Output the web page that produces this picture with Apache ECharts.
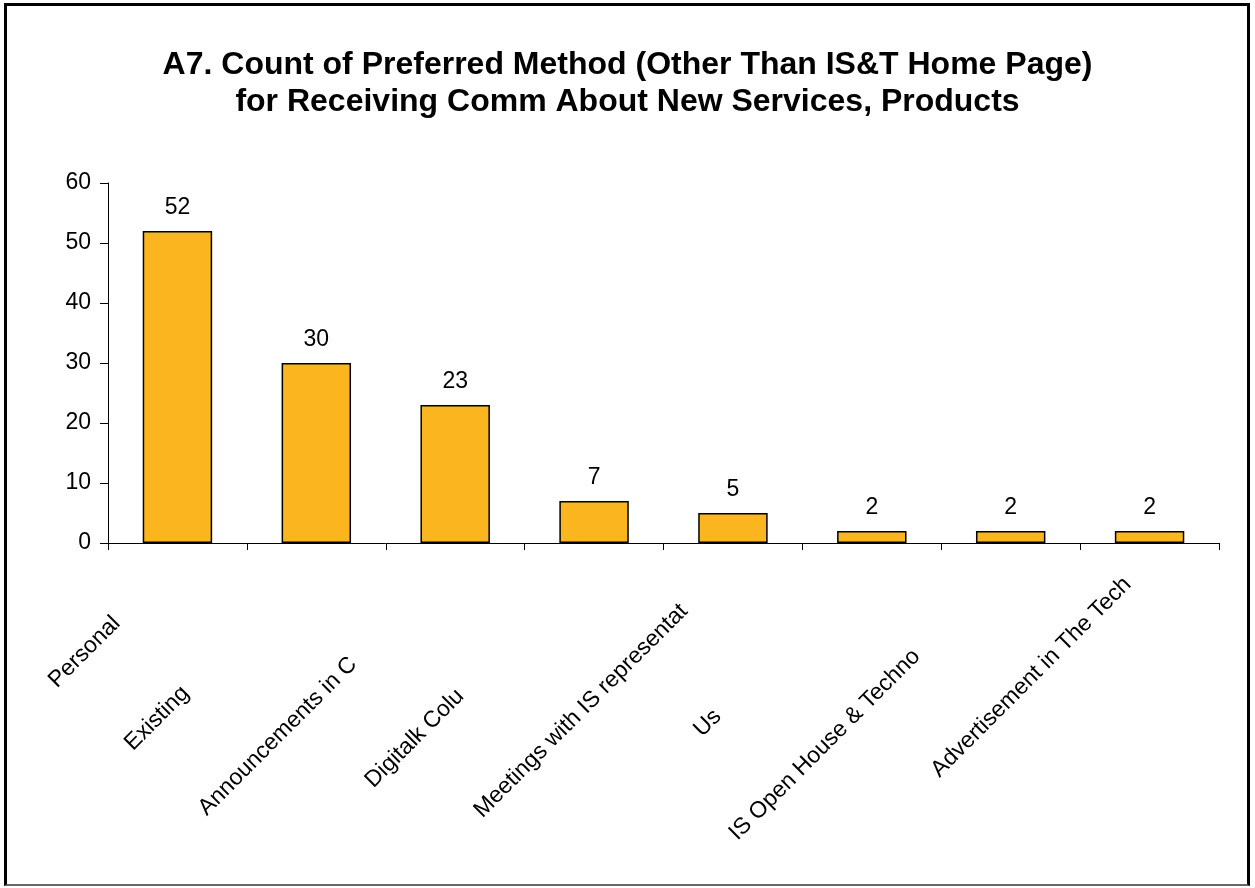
<!DOCTYPE html>
<html>
<head>
<meta charset="utf-8">
<script src="https://cdn.jsdelivr.net/npm/echarts@6/dist/echarts.min.js"></script>
<style>
    html, body { margin: 0; padding: 0; background: #fff; }
    #frame {
        position: absolute; left: 4px; top: 3px; width: 1246px; height: 883px;
        box-sizing: border-box;
        border-left: 3px solid #000; border-top: 3px solid #000;
        border-right: 3px solid #000; border-bottom: 2px solid #666;
    }
    #chart { position: absolute; left: 0; top: 0; width: 1255px; height: 888px; }
</style>
</head>
<body>
<div id="frame"></div>
<div id="chart"></div>
<script>
// categories as they show on the chart (labels are cut off there)
var categories = ['Personal', 'Existing', 'Announcements in C', 'Digitalk Colu',
    'Meetings with IS representat', 'Us', 'IS Open House & Techno', 'Advertisement in The Tech'];
var counts = [52, 30, 23, 7, 5, 2, 2, 2];
var yTicks = [0, 10, 20, 30, 40, 50, 60];

// how far each label centre sits down-left from its tick (px along the 45deg line)
var labelShift = [131, 225, 251, 254, 215, 232, 263, 167];

var fontSize = 23;

// measure label widths so the label centres land where they should
var ctx = document.createElement('canvas').getContext('2d');
ctx.font = fontSize + 'px "Liberation Sans", Arial';

var xData = categories.map(function (c, i) {
    var w = ctx.measureText(c).width;
    var pr = Math.max(0, Math.round(labelShift[i] - w / 2));
    return {
        value: c,
        textStyle: { padding: [0, pr, 0, 0] }
    };
});

var myChart = echarts.init(document.getElementById('chart'));

var option = {
    animation: false,
    title: {
        text: 'A7. Count of Preferred Method (Other Than IS&T Home Page)\nfor Receiving Comm About New Services, Products',
        left: 'center',
        top: 42,
        textStyle: {
            fontFamily: 'Liberation Sans, Arial',
            fontWeight: 'bold',
            fontSize: 32,
            lineHeight: 37,
            color: '#000'
        }
    },
    grid: {
        left: 108,
        right: 36,
        top: 183,
        bottom: 345,
        containLabel: false,
        outerBoundsMode: 'none'
    },
    xAxis: {
        type: 'category',
        data: xData,
        axisLine: { lineStyle: { color: '#000', width: 1 } },
        axisTick: { show: true, length: 7, lineStyle: { color: '#000' } },
        axisLabel: {
            interval: 0,
            rotate: 45,
            align: 'right',
            verticalAlign: 'middle',
            margin: 16,
            fontFamily: 'Liberation Sans, Arial',
            fontSize: fontSize,
            color: '#000'
        }
    },
    yAxis: {
        type: 'value',
        min: yTicks[0],
        max: yTicks[yTicks.length - 1],
        interval: 10,
        axisLine: { show: true, lineStyle: { color: '#000', width: 1 } },
        axisTick: { show: true, length: 8, lineStyle: { color: '#000' } },
        splitLine: { show: false },
        axisLabel: {
            margin: 17,
            fontFamily: 'Liberation Sans, Arial',
            fontSize: fontSize,
            color: '#000'
        }
    },
    series: [{
        type: 'bar',
        data: counts,
        barWidth: '50%',
        itemStyle: {
            color: '#FBB61F',
            borderColor: '#000',
            borderWidth: 1.5
        },
        label: {
            show: true,
            position: 'top',
            distance: 12,
            fontFamily: 'Liberation Sans, Arial',
            fontSize: fontSize,
            color: '#000'
        }
    }]
};

myChart.setOption(option);
</script>
</body>
</html>
